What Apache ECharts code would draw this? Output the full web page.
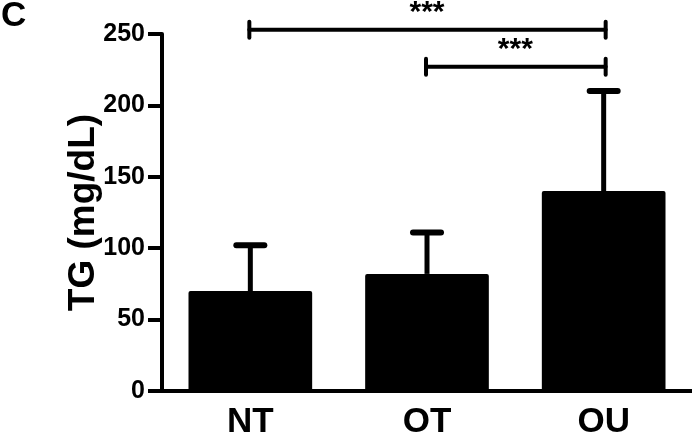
<!DOCTYPE html>
<html>
<head>
<meta charset="utf-8">
<script src="https://cdn.jsdelivr.net/npm/echarts@6/dist/echarts.min.js"></script>
<style>
    html, body { margin: 0; padding: 0; background: #fff; }
    #chart { width: 692px; height: 437px; }
</style>
</head>
<body>
<div id="chart"></div>
<script>
    var groups = ['NT', 'OT', 'OU'];
    var means = [70, 82, 140];
    var sds = [32, 29, 70];
    var yTicks = [0, 50, 100, 150, 200, 250];

    // significance brackets
    var sigFrom = [0, 1];
    var sigTo = [2, 2];
    var sigLevel = [253, 227];
    var sigLabel = ['***', '***'];

    var FONT = '"Liberation Sans", Arial, sans-serif';

    var errData = means.map(function (m, i) { return [i, m, m + sds[i]]; });
    var sigData = sigFrom.map(function (f, i) { return [f, sigLevel[i], sigTo[i]]; });

    var myChart = echarts.init(document.getElementById('chart'));
    myChart.setOption({
        animation: false,
        backgroundColor: '#fff',
        title: {
            text: 'C',
            left: 1,
            top: -1,
            padding: 0,
            textStyle: { fontSize: 35, fontWeight: 'bold', color: '#000', fontFamily: FONT }
        },
        grid: { left: 162, right: 0, top: 34, bottom: 46, containLabel: false, outerBoundsMode: 'none' },
        xAxis: {
            type: 'category',
            data: groups,
            axisLine: { lineStyle: { color: '#000', width: 4 } },
            axisTick: { alignWithLabel: true, length: 9, lineStyle: { color: '#000', width: 4 } },
            axisLabel: { fontSize: 35, fontWeight: 'bold', color: '#000', margin: 14, fontFamily: FONT }
        },
        yAxis: {
            type: 'value',
            min: yTicks[0],
            max: yTicks[yTicks.length - 1],
            interval: yTicks[1] - yTicks[0],
            splitLine: { show: false },
            axisLine: { show: true, lineStyle: { color: '#000', width: 4 } },
            axisTick: { show: true, length: 14, lineStyle: { color: '#000', width: 4 } },
            axisLabel: { fontSize: 25, fontWeight: 'bold', color: '#000', margin: 17, fontFamily: FONT },
            name: 'TG (mg/dL)',
            nameLocation: 'middle',
            nameGap: 60,
            nameMoveOverlap: false,
            nameTextStyle: { fontSize: 37, fontWeight: 'bold', color: '#000', fontFamily: FONT }
        },
        series: [
            {
                type: 'bar',
                data: means,
                barWidth: '70%',
                itemStyle: { color: '#000', borderRadius: 2 }
            },
            {
                type: 'custom',
                data: errData,
                encode: { x: 0, y: 1 },
                z: 3,
                renderItem: function (params, api) {
                    var p0 = api.coord([api.value(0), api.value(1)]);
                    var p1 = api.coord([api.value(0), api.value(2)]);
                    return {
                        type: 'group',
                        children: [
                            { type: 'line', shape: { x1: p0[0], y1: p0[1], x2: p1[0], y2: p1[1] },
                              style: { stroke: '#000', lineWidth: 5 } },
                            { type: 'line', shape: { x1: p1[0] - 14, y1: p1[1], x2: p1[0] + 14, y2: p1[1] },
                              style: { stroke: '#000', lineWidth: 6, lineCap: 'round' } }
                        ]
                    };
                }
            },
            {
                type: 'custom',
                data: sigData,
                encode: { x: 0, y: 1 },
                clip: false,
                renderItem: function (params, api) {
                    var a = api.coord([api.value(0), api.value(1)]);
                    var b = api.coord([api.value(2), api.value(1)]);
                    var y = a[1];
                    var st = { stroke: '#000', lineWidth: 4, lineCap: 'round' };
                    return {
                        type: 'group',
                        children: [
                            { type: 'line', shape: { x1: a[0] - 1, y1: y, x2: b[0] + 2, y2: y }, style: st },
                            { type: 'line', shape: { x1: a[0] - 1, y1: y - 8, x2: a[0] - 1, y2: y + 8 }, style: st },
                            { type: 'line', shape: { x1: b[0] + 2, y1: y - 8, x2: b[0] + 2, y2: y + 8 }, style: st },
                            { type: 'text', style: {
                                text: sigLabel[params.dataIndex],
                                x: (a[0] + b[0]) / 2, y: y - 17,
                                align: 'center', verticalAlign: 'middle',
                                font: 'bold 30px ' + FONT, fill: '#000'
                            } }
                        ]
                    };
                }
            }
        ]
    });
</script>
</body>
</html>
